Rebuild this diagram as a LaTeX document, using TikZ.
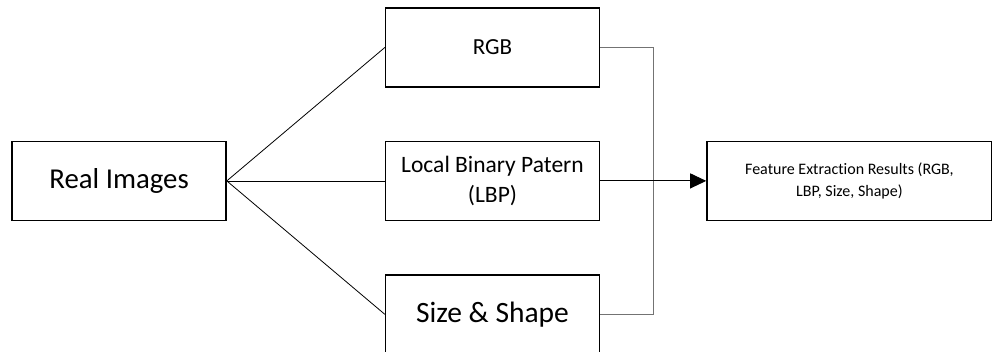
\documentclass[tikz,border=0pt]{standalone}
\usepackage{fontspec}
\setmainfont{Carlito}[Ligatures=NoCommon]
\usetikzlibrary{arrows.meta,positioning,calc}

\begin{document}
\begin{tikzpicture}[x=1pt, y=-1pt, node distance=53pt,
    box/.style={draw, line width=1.4pt, minimum width=214pt, minimum height=79pt, align=center, inner sep=2pt},
    fan/.style={line width=0.8pt},
    bus/.style={line width=1pt, draw=black!55}]
  \useasboundingbox (0,0) rectangle (992,351);

  % feature branches
  \node[box, font=\fontsize{23}{26}\selectfont] (rgb) at (492.5,47.5) {RGB};
  \node[box, below=of rgb, font=\fontsize{23.5}{30}\selectfont] (lbp) {Local Binary Patern\\(LBP)};
  \node[box, below=of lbp, font=\fontsize{29.5}{34}\selectfont] (size) {Size \& Shape};

  % input and result
  \node[box, left=158pt of lbp, font=\fontsize{28.8}{34}\selectfont] (real) {Real Images};
  \node[box, right=106pt of lbp, minimum width=285pt, font=\fontsize{16}{22}\selectfont] (feat) {Feature Extraction Results (RGB,\\LBP, Size, Shape)};

  \draw[fan] (real.east) -- (rgb.west);
  \draw[fan] (real.east) -- (lbp.west);
  \draw[fan] (real.east) -- (size.west);

  \coordinate (join) at ($(lbp.east)!0.5!(feat.west)$);
  \draw[bus] (rgb.east) -| (join) |- (size.east);
  \draw[line width=1pt, -{Triangle[length=16pt, width=15pt]}] (lbp.east) -- (feat.west);
\end{tikzpicture}
\end{document}
